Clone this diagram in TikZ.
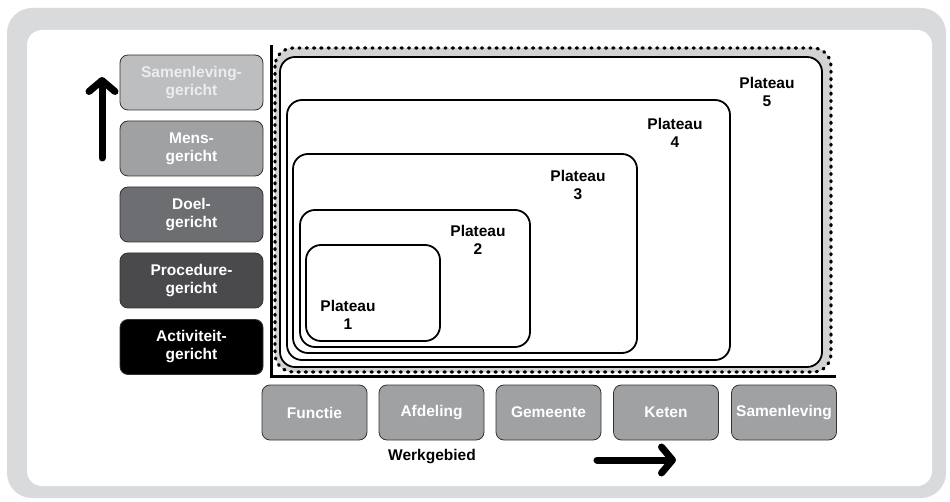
\documentclass[tikz,border=0pt]{standalone}
\usepackage{fontspec}
\setmainfont{Liberation Sans}
\usetikzlibrary{arrows.meta}
\definecolor{framegray}{HTML}{D9DADB}
\definecolor{dotfill}{HTML}{D1D3D4}
\definecolor{lvA}{HTML}{BDBEC0}
\definecolor{lvB}{HTML}{A0A1A3}
\definecolor{lvC}{HTML}{6D6E71}
\definecolor{lvD}{HTML}{4A4A4C}
\definecolor{lvE}{HTML}{000000}
\definecolor{boxedge}{HTML}{333333}
\tikzset{
  lvbox/.style={draw=boxedge, line width=0.8pt, rounded corners=8pt, minimum width=143pt, minimum height=55pt, inner sep=0pt, align=center, text=white},
  wgbox/.style={draw=boxedge, line width=0.8pt, rounded corners=8pt, minimum width=105pt, minimum height=55pt, inner sep=0pt, fill=lvB, text=white},
  plat/.style={draw=black, line width=1.8pt, rounded corners=15pt, fill=white, inner sep=0pt},
  plabel/.style={align=center, inner sep=0pt, text=black},
  bigarrow/.style={line width=7pt, line cap=round, -{Straight Barb[length=11pt,width=26pt,round]}}
}
\begin{document}
\begin{tikzpicture}[x=1pt,y=-1pt, font=\fontsize{15.5}{18}\selectfont\bfseries]
\useasboundingbox (0,0) rectangle (950,502);
\fill[framegray, rounded corners=25pt] (7,8) rectangle (946,498);
\fill[white, rounded corners=15pt] (27,30) rectangle (932,486);

% dotted gray region
\fill[dotfill, rounded corners=18pt] (275,48) rectangle (831,372);
\draw[rounded corners=18pt, line width=3.2pt, line cap=round, dash pattern=on 1.2pt off 6.1pt] (275,48) rectangle (831,372);

% plateaus
\node[plat, minimum width=542pt, minimum height=310pt] (p5) at (551,212) {};
\node[plat, minimum width=443pt, minimum height=260pt] (p4) at (508.5,230) {};
\node[plat, minimum width=344pt, minimum height=199pt] (p3) at (465,253.5) {};
\node[plat, minimum width=230pt, minimum height=137pt] (p2) at (415,278.5) {};
\node[plat, minimum width=134pt, minimum height=96pt] (p1) at (373,293) {};

\node[plabel] (l1) at (348,315) {Plateau\\1};
\node[plabel] (l2) at (478,240) {Plateau\\2};
\node[plabel] (l3) at (578,185) {Plateau\\3};
\node[plabel] (l4) at (675,133) {Plateau\\4};
\node[plabel] (l5) at (767,92) {Plateau\\5};

% axes
\coordinate (atop) at (271,45);
\coordinate (aorig) at (271,376);
\coordinate (aright) at (836,376);
\draw[line width=3pt] (atop) -- (aorig) -- (aright);

% left level boxes
\node[lvbox, fill=lvA, text=white!93!black] (b1) at (191.5,82.5) {Samenleving-\\gericht};
\node[lvbox, fill=lvB] (b2) at (191.5,148.5) {Mens-\\gericht};
\node[lvbox, fill=lvC] (b3) at (191.5,214.5) {Doel-\\gericht};
\node[lvbox, fill=lvD] (b4) at (191.5,280.5) {Procedure-\\gericht};
\node[lvbox, fill=lvE] (b5) at (191.5,347) {Activiteit-\\gericht};

% bottom boxes
\node[wgbox] (w1) at (314.5,412.5) {Functie};
\node[wgbox] (w2) at (431.5,412.5) {Afdeling};
\node[wgbox] (w3) at (548.5,412.5) {Gemeente};
\node[wgbox] (w4) at (666,412.5) {Keten};
\node[wgbox] (w5) at (784,412.5) {Samenleving};

\node[text=black] (wg) at (432,457) {Werkgebied};

% arrows
\coordinate (ua0) at (102,158);
\coordinate (ua1) at (102,77);
\draw[bigarrow] (ua0) -- (ua1);
\coordinate (ra0) at (597,460);
\coordinate (ra1) at (676,460);
\draw[bigarrow] (ra0) -- (ra1);
\end{tikzpicture}
\end{document}
